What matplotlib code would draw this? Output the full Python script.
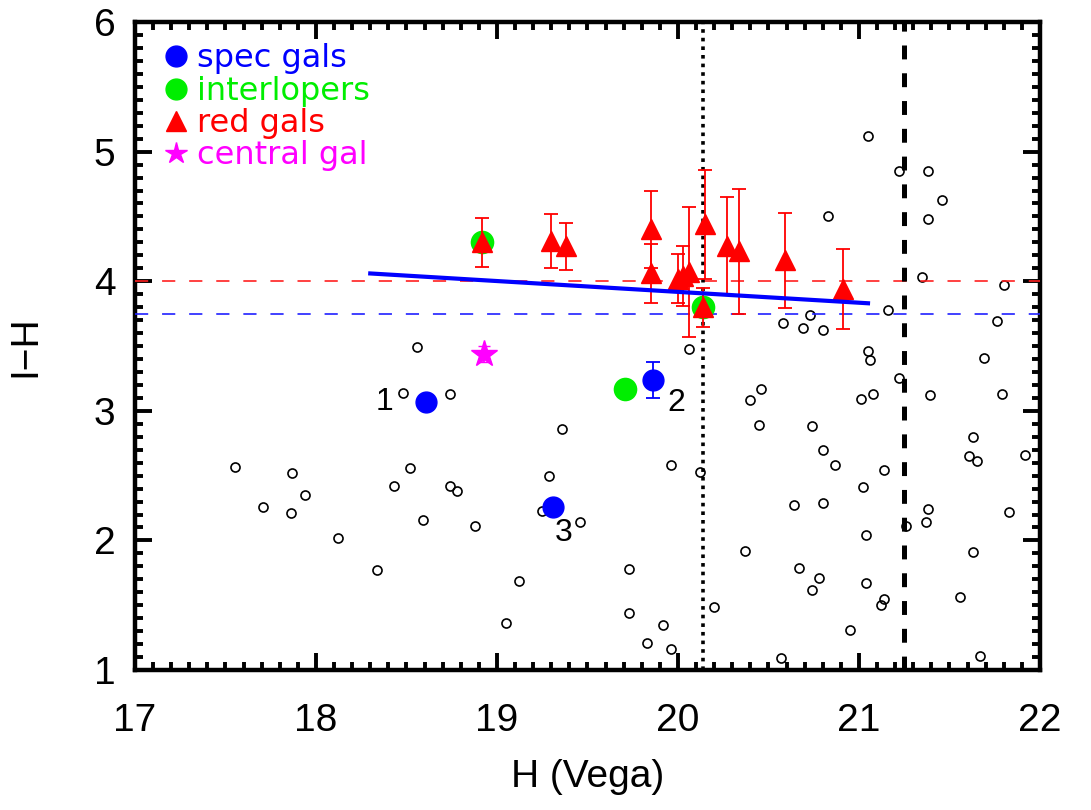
# -*- coding: utf-8 -*-
""" Colour-magnitude diagram: I-H vs H
"""

import matplotlib
matplotlib.use("Agg")
import matplotlib.pyplot as plt
from matplotlib.lines import Line2D

plt.rcParams["font.family"] = ["Liberation Sans", "DejaVu Sans"]
plt.rcParams["lines.scale_dashes"] = False

# field galaxies (small open circles)
field_h = [18.56, 18.48, 18.74, 17.55, 17.87, 17.94, 17.71, 17.86, 18.52, 18.43,
           18.74, 18.78, 18.59, 18.12, 18.34,
           20.06, 19.36, 19.96, 20.12, 19.29, 18.88, 19.25, 19.46, 19.73, 19.12,
           19.73, 19.05, 19.92, 19.83, 19.96, 20.20,
           21.05, 21.22, 21.38, 21.46, 21.38, 20.83, 21.35, 21.80, 21.16, 21.76,
           20.58, 20.73, 20.69, 20.80, 21.05, 21.06, 21.69, 21.22, 20.46, 20.40,
           21.01, 21.08, 21.39, 21.79,
           20.45, 20.74, 20.80, 20.87, 21.14, 21.02, 20.64, 20.80, 21.38, 21.37,
           21.26, 21.04, 20.37, 20.67, 20.78, 20.74, 21.04, 21.14, 21.12, 20.95,
           20.57, 21.67, 21.63, 21.61, 21.65, 21.92, 21.83, 21.63, 21.56]
field_ih = [3.49, 3.14, 3.13, 2.57, 2.52, 2.35, 2.26, 2.21, 2.56, 2.42,
            2.42, 2.38, 2.16, 2.02, 1.77,
            3.48, 2.86, 2.58, 2.53, 2.50, 2.11, 2.23, 2.14, 1.78, 1.69,
            1.44, 1.36, 1.35, 1.21, 1.16, 1.49,
            5.12, 4.85, 4.85, 4.63, 4.48, 4.50, 4.03, 3.97, 3.78, 3.69,
            3.68, 3.74, 3.64, 3.62, 3.46, 3.39, 3.41, 3.25, 3.17, 3.08,
            3.09, 3.13, 3.12, 3.13,
            2.89, 2.88, 2.70, 2.58, 2.54, 2.41, 2.27, 2.29, 2.24, 2.14,
            2.11, 2.04, 1.92, 1.79, 1.71, 1.62, 1.67, 1.55, 1.50, 1.31,
            1.09, 1.11, 2.80, 2.65, 2.61, 2.66, 2.22, 1.91, 1.56]

# red galaxies
red_h = [18.92, 19.30, 19.38, 19.85, 19.85, 20.00, 20.03, 20.06, 20.14, 20.15,
         20.27, 20.34, 20.59, 20.91]
red_ih = [4.30, 4.31, 4.27, 4.40, 4.06, 4.02, 4.04, 4.07, 3.80, 4.44,
          4.27, 4.23, 4.16, 3.94]
red_err = [0.19, 0.21, 0.18, 0.30, 0.23, 0.19, 0.23, 0.50, 0.15, 0.42,
           0.38, 0.48, 0.37, 0.31]

# interlopers
inter_h = [18.92, 20.14, 19.71]
inter_ih = [4.30, 3.80, 3.17]

# spectroscopic members
spec_h = [18.61, 19.86, 19.31]
spec_ih = [3.07, 3.24, 2.26]
spec_err = [0.0, 0.14, 0.03]
spec_names = ["1", "2", "3"]
name_h = [18.38, 19.99, 19.37]
name_ih = [3.07, 3.06, 2.06]

# central galaxy
central_h = [18.93]
central_ih = [3.44]
central_err = [0.06]

# red sequence fit and reference lines
fit_h = [18.30, 21.05]
fit_ih = [4.06, 3.83]
red_cut = 4.0
blue_cut = 3.75
h_limit_spec = 20.14
h_limit_phot = 21.25

fig = plt.figure(figsize=(10.91, 8.10), dpi=100)
ax = fig.add_axes([0.1237, 0.1728, 0.8295, 0.8])

ax.plot(field_h, field_ih, "o", ms=6.5, mfc="none", mec="black", mew=1.2, zorder=2)

ax.axhline(red_cut, color="#ff2020", lw=1.2, dashes=(9.5, 10), zorder=3)
ax.axhline(blue_cut, color="#2020ff", lw=1.2, dashes=(9.5, 10), zorder=3)
ax.axvline(h_limit_spec, color="black", lw=2.6, dashes=(2.6, 3.6), zorder=3)
ax.axvline(h_limit_phot, color="black", lw=3.6, dashes=(10, 10), zorder=3)

ax.plot(inter_h, inter_ih, "o", ms=17, color="#00ee00", mec="none", zorder=4)
ax.errorbar(red_h, red_ih, yerr=red_err, fmt="^", ms=14, color="red",
            ecolor="red", elinewidth=1.3, capsize=5, capthick=1.3, zorder=5)
ax.plot(fit_h, fit_ih, color="blue", lw=3, zorder=6)
ax.errorbar(spec_h, spec_ih, yerr=spec_err, fmt="o", ms=15, color="blue",
            ecolor="blue", elinewidth=1.3, capsize=5, capthick=1.3, zorder=6)
ax.errorbar(central_h, central_ih, yerr=central_err, fmt="*", ms=20,
            color="magenta", ecolor="magenta", elinewidth=1.3, capsize=4,
            zorder=6)

for name, x, y in zip(spec_names, name_h, name_ih):
    ax.text(x, y, name, fontsize=23, ha="center", va="center", zorder=7)

ax.set_xlim(17, 22)
ax.set_ylim(1, 6)
ax.set_xticks([17, 18, 19, 20, 21, 22])
ax.set_yticks([1, 2, 3, 4, 5, 6])
ax.minorticks_on()
ax.xaxis.set_minor_locator(matplotlib.ticker.MultipleLocator(0.1))
ax.yaxis.set_minor_locator(matplotlib.ticker.MultipleLocator(0.1))
ax.tick_params(which="both", direction="in", top=True, right=True, width=2.8)
ax.tick_params(which="major", length=12, labelsize=28)
ax.tick_params(which="minor", length=6)
ax.tick_params(axis="x", which="major", pad=24)
ax.tick_params(axis="y", which="major", pad=14)
for sp in ax.spines.values():
    sp.set_linewidth(3.2)

ax.set_xlabel("H (Vega)", fontsize=28, labelpad=14)
ax.set_ylabel("I\u2212H", fontsize=28, labelpad=36)

handles = [
    Line2D([], [], ls="none", marker="o", ms=15, color="blue"),
    Line2D([], [], ls="none", marker="o", ms=15, color="#00ee00"),
    Line2D([], [], ls="none", marker="^", ms=14, color="red"),
    Line2D([], [], ls="none", marker="*", ms=16, color="magenta"),
]
labels = ["spec gals", "interlopers", "red gals", "central gal"]
ax.legend(handles, labels, loc="upper left", frameon=False,
          prop={"family": ["DejaVu Sans"], "size": 23},
          labelcolor=["blue", "#00ee00", "red", "magenta"],
          handlelength=0.6, handletextpad=0.35, labelspacing=0.04,
          borderaxespad=0.0, borderpad=0.0, bbox_to_anchor=(0.035, 0.967))

fig.savefig("out.png", dpi=100)
